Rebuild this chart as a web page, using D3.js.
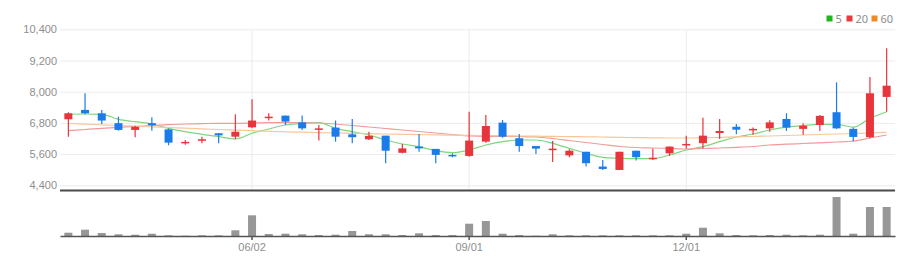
<!DOCTYPE html>
<html>
<head>
<meta charset="utf-8">
<script src="https://cdn.jsdelivr.net/npm/d3@7"></script>
<style>
  html, body { margin: 0; padding: 0; background: #fff; }
  svg { display: block; font-family: "Noto Sans", "Open Sans", sans-serif; }
</style>
</head>
<body>
<div id="chart"></div>
<script>
// weekly candles, one per Monday
const dates = [
  "2025-03-17","2025-03-24","2025-03-31","2025-04-07","2025-04-14","2025-04-21","2025-04-28",
  "2025-05-05","2025-05-12","2025-05-19","2025-05-26","2025-06-02","2025-06-09","2025-06-16",
  "2025-06-23","2025-06-30","2025-07-07","2025-07-14","2025-07-21","2025-07-28","2025-08-04",
  "2025-08-11","2025-08-18","2025-08-25","2025-09-01","2025-09-08","2025-09-15","2025-09-22",
  "2025-09-29","2025-10-06","2025-10-13","2025-10-20","2025-10-27","2025-11-03","2025-11-10",
  "2025-11-17","2025-11-24","2025-12-01","2025-12-08","2025-12-15","2025-12-22","2025-12-29",
  "2026-01-05","2026-01-12","2026-01-19","2026-01-26","2026-02-02","2026-02-09","2026-02-16",
  "2026-02-23"
];

const opens  = [6940,7300,7170,6790,6530,6790,6550,6020,6120,6400,6270,6630,7000,7080,6820,6550,6620,6360,6170,6310,
                5650,5890,5800,5570,5530,6080,6810,6210,5910,5760,5550,5690,5120,4990,5730,5420,5630,5940,6020,6410,
                6650,6520,6590,6950,6570,6720,7210,6570,6250,7800];
const highs  = [7210,7940,7300,7040,6690,7020,6580,6140,6270,6410,7130,7710,7170,7080,7080,6720,6890,6950,6460,6310,
                5990,6370,5800,5630,7230,7100,6910,6370,5910,6100,5790,5690,5370,5690,5730,5820,5890,6310,7000,6950,
                6760,6620,6900,7170,6790,7100,8360,6620,8570,9670];
const lows   = [6270,7130,6760,6500,6250,6500,5940,5960,6020,6020,6170,6590,6890,6720,6530,6120,6080,6020,6140,5250,
                5630,5690,5250,5480,5500,6040,6230,5690,5600,5300,5480,5120,4990,4990,5350,5370,5530,5820,5820,6180,
                6360,6340,6460,6490,6340,6490,6570,6080,6210,7230];
const closes = [7170,7170,6890,6530,6650,6710,6040,6070,6170,6320,6460,6890,7040,6850,6590,6590,6270,6250,6300,5730,
                5820,5820,5570,5520,6120,6680,6270,5910,5810,5810,5730,5250,5030,5690,5480,5460,5890,5990,6310,6490,
                6540,6570,6820,6620,6690,7070,6590,6260,7940,8230];
const volumes = [33,63,30,17,13,23,7,3,7,7,57,207,20,23,17,10,13,50,17,17,
                 10,27,10,10,123,150,23,10,3,17,7,7,7,7,7,7,7,23,83,27,
                 10,7,10,13,7,13,390,23,290,290];

// moving averages
const ma5  = [7131,7142,7131,6938,6846,6758,6592,6462,6362,6269,6181,6400,6565,6719,6785,6808,6592,6462,6335,6142,
              5988,5885,5731,5654,5758,5950,6077,6142,6142,6015,5823,5631,5477,5438,5423,5423,5565,5758,5885,6077,
              6258,6373,6527,6635,6700,6746,6746,6635,6977,7231];
const ma20 = [6500,6546,6592,6631,6661,6700,6731,6758,6769,6785,6785,6796,6808,6808,6808,6796,6758,6700,6642,6585,
              6527,6469,6411,6354,6296,6277,6285,6277,6258,6200,6123,6046,5969,5892,5854,5835,5815,5796,5815,5835,
              5861,5892,5950,5981,6008,6035,6065,6104,6219,6335];
const ma60 = [6777,6750,6727,6700,6673,6650,6623,6600,6573,6546,6523,6500,6477,6458,6442,6427,6411,6400,6388,6373,
              6361,6350,6338,6327,6319,6312,6304,6296,6288,6281,6273,6265,6258,6246,6235,6227,6219,6219,6231,6246,
              6262,6277,6296,6315,6335,6354,6373,6392,6411,6438];

const priceTicks = [4400, 5600, 6800, 8000, 9200, 10400];
const dateTicks = ["2025-06-02", "2025-09-01", "2025-12-01"];
const dateTickLabels = ["06/02", "09/01", "12/01"];

const maNames = ["5", "20", "60"];
const maSeries = [ma5, ma20, ma60];
const maLegendColors = ["#1fb51f", "#ea3a3f", "#f08a24"];
const maLineColors = ["#7fd67f", "#f29a9a", "#f7c79a"];

const upColor = "#e8343b", downColor = "#1a7ce8";

const width = 919, height = 265;
const left = 60, right = 895;
const priceTop = 29.3, priceBottom = 185.3;
const panelLine = 190.5;
const volBase = 236, volTop = 197;

const svg = d3.select("#chart").append("svg")
  .attr("width", width).attr("height", height);

const x = d3.scaleBand().domain(dates).range([left, right]).padding(0);
const cx = d => x(d) + x.bandwidth() / 2;
const y = d3.scaleLinear().domain([4400, 10400]).range([priceBottom, priceTop]);
const yv = d3.scaleLinear().domain([0, d3.max(volumes)]).range([volBase, volTop]);

// horizontal grid + labels
const yAxis = svg.append("g")
  .attr("transform", `translate(${left},0)`)
  .call(d3.axisLeft(y).tickValues(priceTicks).tickFormat(d3.format(",")).tickSize(-(right - left)).tickPadding(3));
yAxis.select(".domain").remove();
yAxis.selectAll(".tick line").attr("stroke", "#ececec");
yAxis.selectAll(".tick text").attr("fill", "#8e8e8e").attr("font-size", "11px");

// vertical grid at date ticks
svg.append("g").selectAll("line")
  .data(dateTicks).enter().append("line")
  .attr("x1", d => cx(d)).attr("x2", d => cx(d))
  .attr("y1", priceTop).attr("y2", panelLine)
  .attr("stroke", "#ececec");

// panel separator
svg.append("line")
  .attr("x1", left).attr("x2", right)
  .attr("y1", panelLine).attr("y2", panelLine)
  .attr("stroke", "#4a4a4a").attr("stroke-width", 2);

// moving average lines
maSeries.forEach((vals, k) => {
  const line = d3.line()
    .x((d, i) => cx(dates[i]))
    .y(d => y(d))
    .curve(d3.curveMonotoneX);
  svg.append("path")
    .datum(vals)
    .attr("fill", "none")
    .attr("stroke", maLineColors[k])
    .attr("stroke-width", 1.2)
    .attr("d", line);
});

// candles
const candles = dates.map((d, i) => ({ date: d, o: opens[i], h: highs[i], l: lows[i], c: closes[i] }));
const cg = svg.append("g").selectAll("g").data(candles).enter().append("g");
cg.append("line")
  .attr("x1", d => cx(d.date)).attr("x2", d => cx(d.date))
  .attr("y1", d => y(d.h)).attr("y2", d => y(d.l))
  .attr("stroke", d => d.c >= d.o ? upColor : downColor)
  .attr("stroke-width", 1.2);
const bodyW = 8;
cg.append("rect")
  .attr("x", d => cx(d.date) - bodyW / 2)
  .attr("width", bodyW)
  .attr("y", d => y(Math.max(d.o, d.c)))
  .attr("height", d => Math.max(1.5, Math.abs(y(d.o) - y(d.c))))
  .attr("fill", d => d.c >= d.o ? upColor : downColor);

// volume bars
svg.append("g").selectAll("rect")
  .data(volumes).enter().append("rect")
  .attr("x", (d, i) => cx(dates[i]) - bodyW / 2)
  .attr("width", bodyW)
  .attr("y", d => yv(d))
  .attr("height", d => volBase - yv(d))
  .attr("fill", "#979797");

// volume baseline + date axis
const xAxis = svg.append("g")
  .attr("transform", `translate(0,${volBase})`)
  .call(d3.axisBottom(x).tickValues(dateTicks)
    .tickFormat(d => dateTickLabels[dateTicks.indexOf(d)])
    .tickSize(4).tickSizeOuter(0).tickPadding(3));
xAxis.select(".domain").attr("stroke", "#555").attr("stroke-width", 1.5);
xAxis.selectAll(".tick line").attr("stroke", "#555").attr("stroke-width", 1.5);
xAxis.selectAll(".tick text").attr("fill", "#8e8e8e").attr("font-size", "11px");

// legend
const legendX = [826.5, 846.5, 871.5];
const legend = svg.append("g");
maNames.forEach((name, k) => {
  legend.append("rect")
    .attr("x", legendX[k]).attr("y", 15.5)
    .attr("width", 6).attr("height", 6)
    .attr("fill", maLegendColors[k]);
  legend.append("text")
    .attr("x", legendX[k] + 9).attr("y", 22.5)
    .attr("font-size", "11px").attr("fill", "#8e8e8e")
    .text(name);
});
</script>
</body>
</html>
